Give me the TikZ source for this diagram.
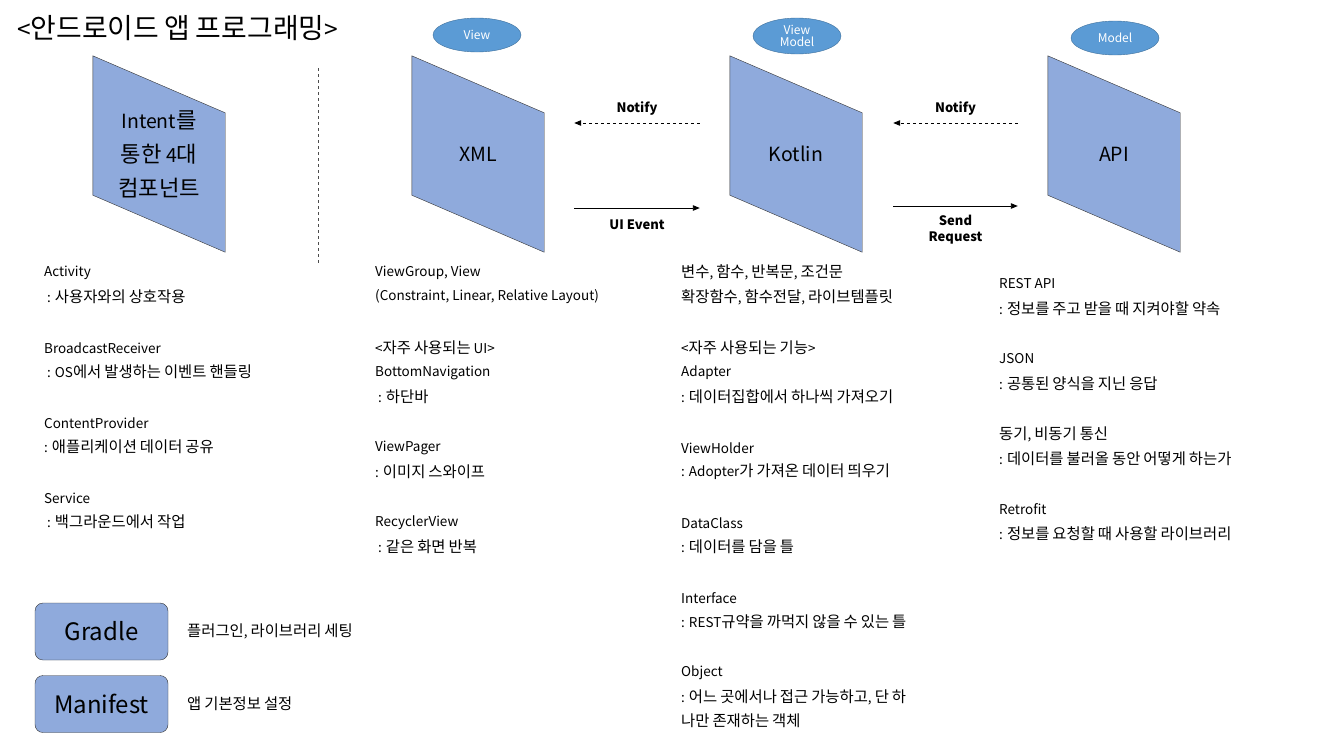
\documentclass[tikz,border=0pt]{standalone}
\usepackage{fontspec}
\setmainfont{Noto Sans CJK KR}
\newfontfamily\hanfont{Noto Sans CJK KR}[Scale=1.14]
\usetikzlibrary{shapes.geometric,arrows.meta,calc}
\definecolor{panelblue}{HTML}{8FAADC}
\definecolor{ovalblue}{HTML}{5B9BD5}
\definecolor{ovalline}{HTML}{41719C}

% Hangul set a little larger than Latin.
\XeTeXinterchartokenstate=1
\newXeTeXintercharclass\hanclass
\newcount\hancount
\hancount="AC00
\loop\ifnum\hancount<"D7A4 \XeTeXcharclass\hancount=\hanclass \advance\hancount by 1 \repeat
\XeTeXinterchartoks 0 \hanclass = {\begingroup\hanfont}
\XeTeXinterchartoks 4095 \hanclass = {\begingroup\hanfont}
\XeTeXinterchartoks \hanclass 0 = {\endgroup}
\XeTeXinterchartoks \hanclass 4095 = {\endgroup}

\tikzset{
	panel/.style={minimum width=132pt, minimum height=196pt, inner sep=0pt},
	oval/.style={ellipse, draw=ovalline, fill=ovalblue, text=white, minimum width=88pt, minimum height=34pt, inner sep=0pt, align=center, font=\fontsize{12}{12}\selectfont},
	note/.style={anchor=west, inner sep=0pt, font=\fontsize{13.5}{16}\selectfont},
	flow/.style={line width=0.9pt, -{Triangle[length=7pt,width=5.5pt]}},
	tag/.style={inner sep=0pt, align=center, font=\bfseries\fontsize{13}{16}\selectfont},
	setbox/.style={draw=black!80, fill=panelblue, rounded corners=8pt, minimum width=133pt, minimum height=57pt, font=\fontsize{24}{24}\selectfont}
}

\begin{document}
\begin{tikzpicture}[x=1pt, y=-1pt]
	\useasboundingbox (0,0) rectangle (1321,739);
	
	% Title.
	\node[anchor=west, inner sep=0pt, font=\fontsize{24.5}{25}\selectfont] (title) at (17,28) {<안드로이드 앱 프로그래밍>};
	
	% Draw panels.
	\foreach \n/\x/\t in {intent/159/{Intent를\\통한 4대\\컴포넌트}, xml/478/XML, kotlin/796/Kotlin, api/1114/API} {
		\node[panel] (\n) at (\x,154) {};
		\draw[black!80, fill=panelblue] (\n.north west) -- ([yshift=-57pt]\n.north east) -- (\n.south east) -- ([yshift=57pt]\n.south west) -- cycle;
		\node[align=center, font=\fontsize{19.5}{34}\selectfont] (\n-text) at (\n.center) {\t};
	}
	
	% Layer ovals.
	\node[oval] (view) at (477,35) {View};
	\node[oval, minimum height=36pt] (viewmodel) at (797,36) {View\\Model};
	\node[oval] (model) at (1115,38) {Model};
	
	% Separator.
	\draw[dashed, black!70] (318,68) -- (318,265);
	
	% Arrows between panels.
	\coordinate (xml-up) at ([xshift=30pt, yshift=31pt]xml.east);
	\coordinate (xml-down) at ([xshift=30pt, yshift=-54pt]xml.east);
	\coordinate (kotlin-in-up) at ([xshift=-30pt, yshift=31pt]kotlin.west);
	\coordinate (kotlin-in-down) at ([xshift=-30pt, yshift=-54pt]kotlin.west);
	\coordinate (kotlin-out-up) at ([xshift=31pt, yshift=31pt]kotlin.east);
	\coordinate (kotlin-out-down) at ([xshift=31pt, yshift=-52pt]kotlin.east);
	\coordinate (api-up) at ([xshift=-30pt, yshift=31pt]api.west);
	\coordinate (api-down) at ([xshift=-30pt, yshift=-52pt]api.west);
	
	\draw[flow, dashed] (kotlin-in-up) -- (xml-up) node[midway, above=7pt, tag] (notify1) {Notify};
	\draw[flow] (xml-down) -- (kotlin-in-down) node[midway, below=11pt, tag] (uievent) {UI Event};
	\draw[flow, dashed] (api-up) -- (kotlin-out-up) node[midway, above=7pt, tag] (notify2) {Notify};
	\draw[flow] (kotlin-out-down) -- (api-down) node[midway, below=9pt, tag] (sendreq) {Send\\Request};
	
	% Components.
	\foreach \t/\y [count=\i] in {Activity/273, {\hspace{3pt}: 사용자와의 상호작용}/297, BroadcastReceiver/348, {\hspace{3pt}: OS에서 발생하는 이벤트 핸들링}/372, ContentProvider/423, {: 애플리케이션 데이터 공유}/447, Service/498, {\hspace{3pt}: 백그라운드에서 작업}/522} {
		\node[note] (comp\i) at (44,\y) {\t};
	}
	
	% View notes.
	\foreach \t/\y [count=\i] in {{ViewGroup, View}/273, {(Constraint, Linear, Relative Layout)}/297, {<자주 사용되는 UI>}/348, BottomNavigation/373, {\hspace{3pt}: 하단바}/397, ViewPager/448, {: 이미지 스와이프}/472, RecyclerView/523, {\hspace{3pt}: 같은 화면 반복}/547} {
		\node[note] (view\i) at (375,\y) {\t};
	}
	
	% ViewModel notes.
	\foreach \t/\y [count=\i] in {{변수, 함수, 반복문, 조건문}/272, {확장함수, 함수전달, 라이브템플릿}/297, {<자주 사용되는 기능>}/348, Adapter/373, {: 데이터집합에서 하나씩 가져오기}/397, ViewHolder/448, {: Adopter가 가져온 데이터 띄우기}/472, DataClass/523, {: 데이터를 담을 틀}/547, Interface/598, {: REST규약을 까먹지 않을 수 있는 틀}/622, Object/673, {: 어느 곳에서나 접근 가능하고, 단 하}/697, {나만 존재하는 객체}/721} {
		\node[note] (vm\i) at (681,\y) {\t};
	}
	
	% Model notes.
	\foreach \t/\y [count=\i] in {{REST API}/284, {: 정보를 주고 받을 때 지켜야할 약속}/309, JSON/359, {: 공통된 양식을 지닌 응답}/384, {동기, 비동기 통신}/434, {: 데이터를 불러올 동안 어떻게 하는가}/459, Retrofit/509, {: 정보를 요청할 때 사용할 라이브러리}/534} {
		\node[note] (model\i) at (999,\y) {\t};
	}
	
	% Build files.
	\node[setbox] (gradle) at (101.5,631.5) {Gradle};
	\node[setbox] (manifest) at (101.5,704) {Manifest};
	\node[note] (gradle-note) at (187,631) {플러그인, 라이브러리 세팅};
	\node[note] (manifest-note) at (187,704) {앱 기본정보 설정};
	
\end{tikzpicture}
\end{document}
